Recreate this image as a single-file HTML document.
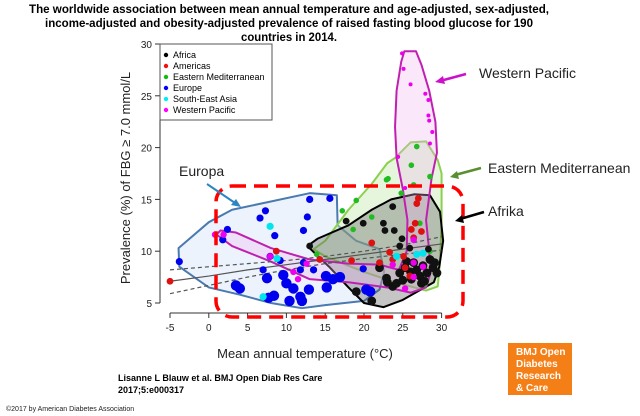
<!DOCTYPE html>
<html><head><meta charset="utf-8"><style>
html,body{margin:0;padding:0;background:#fff}
svg{display:block;font-family:"Liberation Sans",sans-serif}
</style></head><body>
<svg width="640" height="416" viewBox="0 0 640 416" id="svg">
<g font-weight="bold" font-size="12" text-anchor="middle" fill="#000">
<text x="289" y="13" textLength="520" lengthAdjust="spacingAndGlyphs">The worldwide association between mean annual temperature and age-adjusted, sex-adjusted,</text>
<text x="289" y="27" textLength="488" lengthAdjust="spacingAndGlyphs">income-adjusted and obesity-adjusted prevalence of raised fasting blood glucose for 190</text>
<text x="289" y="41" textLength="96" lengthAdjust="spacingAndGlyphs">countries in 2014.</text>
</g>
<g id="hulls"></g>
<g id="lines"></g>
<g id="pts"></g>
<g id="axes"></g>
<rect x="216" y="186" width="247" height="131" rx="16" fill="none" stroke="#f00" stroke-width="3.5" stroke-dasharray="14,8"/>
<g font-size="9">
<rect x="160" y="44" width="112" height="76" fill="#fff" stroke="#555" stroke-width="1"/>
<circle cx="166" cy="55" r="2.2" fill="#000"/><text x="173" y="58">Africa</text>
<circle cx="166" cy="66" r="2.2" fill="#e11"/><text x="173" y="69">Americas</text>
<circle cx="166" cy="77" r="2.2" fill="#1b1"/><text x="173" y="80">Eastern Mediterranean</text>
<circle cx="166" cy="88" r="2.2" fill="#00f"/><text x="173" y="91">Europe</text>
<circle cx="166" cy="99" r="2.2" fill="#0ee"/><text x="173" y="102">South-East Asia</text>
<circle cx="166" cy="110" r="2.2" fill="#f0f"/><text x="173" y="113">Western Pacific</text>
</g>
<g font-size="14" fill="#222">
<text x="179" y="176">Europa</text>
<line x1="207" y1="184" x2="238" y2="205" stroke="#2e86c1" stroke-width="2"/><polygon points="241,207 231,205 236,199" fill="#2e86c1"/>
<text x="479" y="78">Western Pacific</text>
<line x1="466" y1="74" x2="440" y2="81" stroke="#c1c" stroke-width="2.5"/><polygon points="435,82 443,76 445,84" fill="#c1c"/>
<text x="488" y="173">Eastern Mediterranean</text>
<line x1="481" y1="168" x2="455" y2="175" stroke="#5a8f30" stroke-width="2.5"/><polygon points="450,177 457,171 459,179" fill="#5a8f30"/>
<text x="488" y="216">Afrika</text>
<line x1="484" y1="212" x2="460" y2="219" stroke="#000" stroke-width="2.5"/><polygon points="455,221 462,215 464,223" fill="#000"/>
</g>
<text x="305" y="358" font-size="13" text-anchor="middle" fill="#222">Mean annual temperature (°C)</text>
<text transform="translate(130,178) rotate(-90)" font-size="13" text-anchor="middle" fill="#222">Prevalence (%) of FBG ≥ 7.0 mmol/L</text>
<g font-size="9" font-weight="bold">
<text x="118" y="381">Lisanne L Blauw et al. BMJ Open Diab Res Care</text>
<text x="118" y="393">2017;5:e000317</text>
</g>
<rect x="508" y="343" width="64" height="52" fill="#f57f17"/>
<g font-size="10" font-weight="bold" fill="#fff">
<text x="516" y="355">BMJ Open</text><text x="516" y="367">Diabetes</text><text x="516" y="379">Research</text><text x="516" y="391">&amp; Care</text>
</g>
<text x="6" y="411" font-size="7" fill="#222">©2017 by American Diabetes Association</text>
</svg>
<script>
const xTicks=[-5,0,5,10,15,20,25,30];
const yTicks=[5,10,15,20,25,30];
const africa=[[19,6.1],[21,5.2],[22,8.4],[22.9,7.4],[23.7,6.6],[24.2,6.9],[24.6,7.9],[25.5,9],[26.4,8.9],[26.8,8.2],[27.2,7.6],[28.1,7.9],[28.9,8.4],[28.5,9.2],[29.1,8.9],[26.1,7.3],[27.4,6.9],[22.7,12],[23.7,14.3],[22.5,12.7],[23.9,12],[24.6,10.5],[25.9,10.3],[25.3,8.4],[27.8,7.1],[29.4,7.9],[27.6,8.6],[28.3,10.2],[24.9,11.2],[19.9,12.7],[17.7,12.9],[13,10.5],[25,7.2],[26,8],[23,7]];
const americas=[[-5,7.1],[8.7,10],[14.3,9.2],[18.4,9.1],[21,10.8],[23.3,9.9],[25.3,8.4],[26.1,12.1],[26.6,12.7],[26.4,11.3],[27.4,11.9],[25.1,9.5],[25.9,7.6],[23.7,9.2],[22,8.9],[26.8,14.6],[27,15.1]];
const eastMed=[[19,14.9],[22.9,16.9],[26.1,18.3],[26.8,20.1],[28.5,17.2],[26.4,16.4],[21,13.3],[18.6,12.1],[13.9,9.7],[21,10.8],[27.8,6.8],[28.5,10],[28.9,8.7],[27.2,12.7],[17.2,13.9],[23.1,17],[24.8,15.6]];
const europe=[[-3.8,9],[1.8,11.1],[2.4,12.1],[6.6,13.2],[7.3,13.9],[8.5,11.5],[13,15],[15.6,15.1],[12.7,13.3],[12.2,12],[3.5,6.7],[4,6.4],[7,8.2],[7.5,7.4],[8.4,5.7],[7.7,5.5],[10.4,5.2],[11.8,5.6],[12,5.2],[10.9,6.4],[9.6,7.7],[10,6.9],[11.8,8.2],[12.9,6.3],[12.2,8.9],[13.5,8.2],[15.1,7.6],[15.2,6.5],[16,7.3],[16.9,7.5],[9.2,9.1],[7.9,9.5],[19.9,8.3],[20.3,6.3],[20.8,6.1]];
const seAsia=[[7.9,12.4],[7,5.6],[8.8,9.3],[24.2,9.5],[26.8,9.7],[27.6,9.8]];
const westPac=[[24.9,29.1],[25.1,27.6],[26,26.1],[27.9,25.2],[28.3,24.6],[28.3,23.1],[28.4,22.6],[28.8,21.5],[28.5,20.4],[24.4,19.1],[25.3,16.1],[10.9,8],[11.5,7.3],[7.9,9.5],[1.9,11.6],[0.8,11.6],[26.4,11.1],[23.7,8.7],[25.3,6.4],[27.6,8.5],[26.4,7.5],[26.4,8.9],[12.6,8.8]];
const hullEurope=[[-3.9,10.3],[0,12.8],[3,14],[8,14.8],[13,15.6],[16.5,15.4],[16.6,12.5],[19,11],[22,10.2],[22.6,8],[22,6.3],[20,5.2],[15,4.8],[12,4.5],[8,5],[4,5.8],[0,6.5],[-3.8,8.5]];
const hullWestPac=[[25.2,29.3],[26.7,29.3],[27.4,28],[28.4,25.5],[29.2,22.5],[29.4,19.5],[28.7,17],[28,13],[28.4,10],[28.6,8],[28,6.5],[26,6],[23,6.5],[18,7],[13,7.3],[8,9],[3,10.5],[1,11.6],[1.5,12],[3.5,11.8],[8,10.3],[13,9.2],[18,8.8],[22,8.7],[24.5,8.2],[25.5,10],[25.6,13],[25,16],[24.2,19],[24,22],[24.2,25.5],[24.8,28.3]];
const hullEastMed=[[24,19],[26,20.5],[28,20.6],[29.5,18.8],[30,17.5],[30,13],[29.8,9],[29.5,6.6],[28,6.2],[24,7],[20,8],[15,9.5],[13.5,10.2],[15,11],[18,14],[21,16.5],[23,18.5]];
const hullAfrica=[[12.7,10.5],[14,11.2],[18,12.5],[21,14],[23.5,15],[26.5,15.5],[28.5,15.4],[29.8,13.8],[30.2,11],[29.7,8.5],[29,7],[25,5.3],[22.5,4.6],[20,5],[18,6.5],[15.5,8.5]];
const fitX=[-5,0,5,10,15,20,25,30];
const fitMid=[7.1,7.6,8.2,8.7,9.2,9.7,10.2,10.7];
const fitUpper=[8.2,8.5,8.8,9.1,9.5,10.0,10.6,11.4];
const fitLower=[5.9,6.7,7.5,8.2,8.8,9.3,9.7,10.1];

const X=v=>208.8+v*7.76, Y=v=>303-(v-5)*10.36;
const NS='http://www.w3.org/2000/svg';
function mk(tag,attrs,parent){const e=document.createElementNS(NS,tag);for(const k in attrs)e.setAttribute(k,attrs[k]);parent.appendChild(e);return e;}
const gA=document.getElementById('axes'),gH=document.getElementById('hulls'),gL=document.getElementById('lines'),gP=document.getElementById('pts');
mk('line',{x1:160,y1:Y(30),x2:160,y2:Y(5),stroke:'#333'},gA);
mk('line',{x1:X(-5),y1:313,x2:X(30),y2:313,stroke:'#333'},gA);
yTicks.forEach(t=>{mk('line',{x1:155,y1:Y(t),x2:160,y2:Y(t),stroke:'#333'},gA);const tx=mk('text',{x:152,y:Y(t)+4,'font-size':10,'text-anchor':'end',fill:'#222'},gA);tx.textContent=t;

});
xTicks.forEach(t=>{mk('line',{x1:X(t),y1:313,x2:X(t),y2:318,stroke:'#333'},gA);const tx=mk('text',{x:X(t),y:331,'font-size':10,'text-anchor':'middle',fill:'#222'},gA);tx.textContent=t;

});
function hull(arr,fill,stroke,name){const p=mk('polygon',{points:arr.map(d=>X(d[0])+','+Y(d[1])).join(' '),fill:fill,stroke:stroke,'stroke-width':2,'stroke-linejoin':'round'},gH);

}
hull(hullEurope,'rgba(225,235,250,0.6)','#4a7ab0','hull-europe');
hull(hullEastMed,'rgba(200,235,180,0.45)','#8cd050','hull-eastern-mediterranean');
hull(hullAfrica,'rgba(90,90,90,0.35)','#000','hull-africa');
hull(hullWestPac,'rgba(240,180,240,0.3)','#c020b0','hull-western-pacific');
function line(ys,dash,name){const l=mk('polyline',{points:fitX.map((x,i)=>X(x)+','+Y(ys[i])).join(' '),fill:'none',stroke:'#555','stroke-width':1.2},gL);if(dash)l.setAttribute('stroke-dasharray','4,3');

}
line(fitMid,false,'fit-line');line(fitUpper,true,'ci-upper');line(fitLower,true,'ci-lower');
function pts(arr,col,rf,name){arr.forEach(d=>{const c=mk('circle',{cx:X(d[0]),cy:Y(d[1]),r:rf(d),fill:col},gP);

});}
pts(europe,'#0000ee',d=>d[1]<7.8?5.2:3.6,'point-europe');
pts(eastMed,'#22bb22',()=>2.8,'point-eastern-mediterranean');
pts(africa,'#111',d=>d[1]<10?4.4:3.4,'point-africa');
pts(americas,'#dd1111',()=>3.4,'point-americas');
pts(seAsia,'#00e5ee',()=>3.6,'point-south-east-asia');
pts(westPac,'#ee00ee',d=>d[1]>15?2:3.2,'point-western-pacific');
</script>
</body></html>
